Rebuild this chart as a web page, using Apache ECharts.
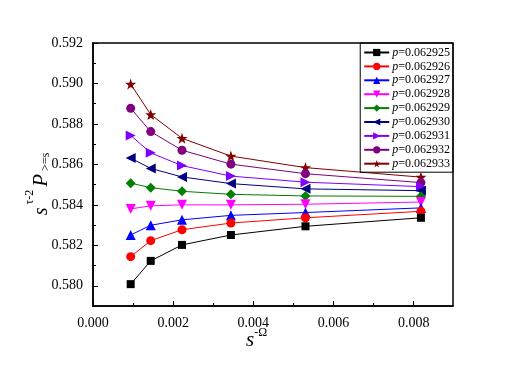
<!DOCTYPE html>
<html><head><meta charset="utf-8">
<script src="https://cdn.jsdelivr.net/npm/echarts@6/dist/echarts.min.js"></script>
<style>html,body{margin:0;padding:0;background:#fff}#c{width:526px;height:370px}</style>
</head><body><div id="c"></div>
<script>
var xValues = [0.00094, 0.00144, 0.00222, 0.00344, 0.0053, 0.00818];
var seriesNames = ['p=0.062925','p=0.062926','p=0.062927','p=0.062928','p=0.062929','p=0.062930','p=0.062931','p=0.062932','p=0.062933'];
var y925 = [0.58008, 0.58123, 0.58202, 0.58251, 0.58294, 0.58336];
var y926 = [0.58144, 0.58223, 0.58277, 0.58310, 0.58336, 0.58368];
var y927 = [0.58251, 0.58299, 0.58326, 0.58348, 0.58362, 0.58385];
var y928 = [0.58380, 0.58395, 0.58400, 0.58400, 0.58403, 0.58414];
var y929 = [0.58507, 0.58485, 0.58467, 0.58452, 0.58444, 0.58442];
var y930 = [0.58631, 0.58580, 0.58538, 0.58505, 0.58479, 0.58470];
var y931 = [0.58743, 0.58657, 0.58594, 0.58542, 0.58512, 0.58490];
var y932 = [0.58877, 0.58762, 0.58670, 0.58601, 0.58554, 0.58510];
var y933 = [0.58997, 0.58846, 0.58729, 0.58641, 0.58584, 0.58537];
var xMajorTicks = [0, 0.002, 0.004, 0.006, 0.008];
var xMinorTicks = [0.001, 0.003, 0.005, 0.007];
var yMajorTicks = [0.580, 0.582, 0.584, 0.586, 0.588, 0.590, 0.592];
var yMinorTicks = [0.579, 0.581, 0.583, 0.585, 0.587, 0.589, 0.591];

var allY = [y925, y926, y927, y928, y929, y930, y931, y932, y933];
var colors = ['#000000','#ff0000','#0000ff','#ff00ff','#008000','#000080','#8000ff','#800080','#800000'];
var symbols = ['rect','circle','triangle','path://M-5,0 L5,0 L0,9 Z','diamond','path://M0,5 L9,0 L9,10 Z','path://M0,0 L9,5 L0,10 Z','circle',
  'path://M0,-10 L2.35,-3.24 L9.51,-3.09 L3.80,1.24 L5.88,8.09 L0,4 L-5.88,8.09 L-3.80,1.24 L-9.51,-3.09 L-2.35,-3.24 Z'];
var sizes = [8, 9, 10, 10, 10, 10, 10, 9, 11];

var FONT = 'Liberation Serif';
var series = allY.map(function (ys, i) {
  return {
    name: seriesNames[i], type: 'line', xAxisIndex: 0, yAxisIndex: 0,
    data: ys.map(function (v, j) { return [xValues[j], v]; }),
    symbol: symbols[i], symbolSize: sizes[i], showSymbol: true,
    lineStyle: { color: colors[i], width: 1 },
    itemStyle: { color: colors[i] },
    animation: false, z: 10 - i
  };
});

var chart = echarts.init(document.getElementById('c'), null, { renderer: 'canvas' });
var xmin = 0, xmax = 0.00898, ymin = 0.579, ymax = 0.592;
chart.setOption({
  backgroundColor: '#fff',
  animation: false,
  grid: { left: 93, right: 73, top: 43, bottom: 64, show: true, borderColor: '#000', borderWidth: 1.5, backgroundColor: 'transparent' },
  xAxis: [{
    type: 'value', min: xmin, max: xmax,
    axisLine: { show: true, lineStyle: { color: '#000', width: 1.5 } },
    axisTick: { show: true, inside: true, length: 5, customValues: xMajorTicks, lineStyle: { color: '#000', width: 1 } },
    axisLabel: { customValues: xMajorTicks, margin: 10, color: '#000', fontFamily: FONT, fontSize: 14,
      formatter: function (v) { return v.toFixed(3); } },
    splitLine: { show: false }
  }, {
    type: 'value', min: xmin, max: xmax, position: 'bottom',
    axisLine: { show: false },
    axisTick: { show: true, inside: true, length: 3, customValues: xMinorTicks, lineStyle: { color: '#000', width: 1 } },
    axisLabel: { show: false }, splitLine: { show: false }
  }],
  yAxis: [{
    type: 'value', min: ymin, max: ymax,
    axisLine: { show: true, lineStyle: { color: '#000', width: 1.5 } },
    axisTick: { show: true, inside: true, length: 5, customValues: yMajorTicks, lineStyle: { color: '#000', width: 1 } },
    axisLabel: { customValues: yMajorTicks, margin: 10, color: '#000', fontFamily: FONT, fontSize: 14,
      formatter: function (v) { return v.toFixed(3); } },
    splitLine: { show: false }
  }, {
    type: 'value', min: ymin, max: ymax, position: 'left',
    axisLine: { show: false },
    axisTick: { show: true, inside: true, length: 3, customValues: yMinorTicks, lineStyle: { color: '#000', width: 1 } },
    axisLabel: { show: false }, splitLine: { show: false }
  }],
  legend: {
    orient: 'vertical', right: 73, top: 43,
    borderColor: '#000', borderWidth: 1, padding: [3, 3, 2, 3],
    itemWidth: 25, itemHeight: 9, itemGap: 0.9,
    data: seriesNames,
    formatter: function (n) { return '{i|p}' + n.slice(1); },
    textStyle: { color: '#000', fontFamily: FONT, fontSize: 12, lineHeight: 13, padding: [0, 0, 0, -2],
      rich: { i: { fontStyle: 'italic', fontFamily: FONT, fontSize: 12, color: '#000' } } }
  },
  graphic: [{
    type: 'text', left: 246, top: 327,
    style: {
      text: '{s|s}{sup|-Ω}',
      rich: {
        s: { fontFamily: FONT, fontStyle: 'italic', fontSize: 21, fill: '#000', verticalAlign: 'bottom', lineHeight: 24 },
        sup: { fontFamily: FONT, fontSize: 12, fill: '#000', verticalAlign: 'top', lineHeight: 24 }
      }
    }
  }, {
    type: 'text', x: 38, y: 184, rotation: Math.PI / 2,
    style: {
      text: '{s|s}{sup| τ-2 }{p|P}{sub| >=s}',
      align: 'center', verticalAlign: 'middle',
      rich: {
        s: { fontFamily: FONT, fontStyle: 'italic', fontSize: 20, fill: '#000', verticalAlign: 'bottom', lineHeight: 28 },
        sup: { fontFamily: FONT, fontSize: 12, fill: '#000', verticalAlign: 'top', lineHeight: 28 },
        p: { fontFamily: FONT, fontStyle: 'italic', fontSize: 21, fill: '#000', verticalAlign: 'bottom', lineHeight: 28 },
        sub: { fontFamily: FONT, fontSize: 12, fill: '#000', verticalAlign: 'bottom', lineHeight: 22 }
      }
    }
  }],
  series: series
});
</script>
</body></html>
